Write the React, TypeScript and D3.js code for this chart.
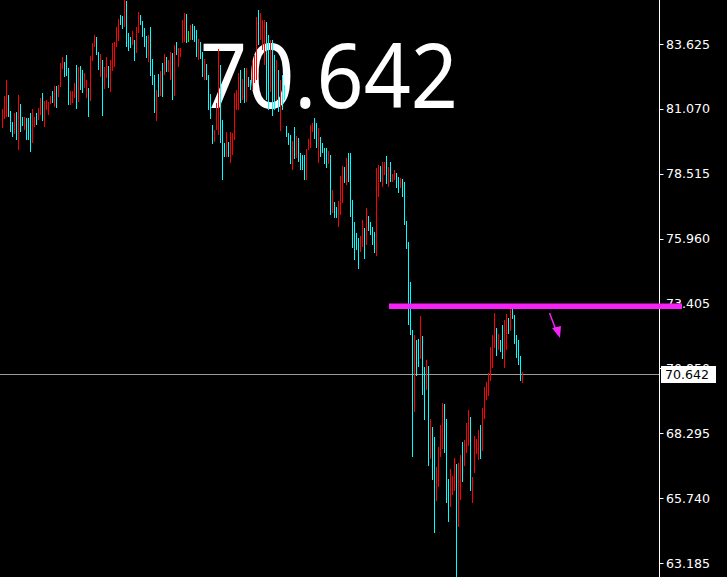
import * as d3 from 'd3';

const WIDTH = 727;
const HEIGHT = 577;

// bar highs / lows, oldest first
const highs = [
  81.07, 81.57, 82.21, 81.61, 80.99, 80.55, 80.91, 80.95, 81.61, 81.26,
  80.75, 80.75, 80.71, 80.71, 80.91, 81.07, 80.75, 80.91, 81.10, 81.50,
  81.69, 81.38, 81.42, 81.34, 81.57, 81.77, 81.97, 81.97, 82.01, 82.88,
  83.11, 82.92, 83.19, 82.68, 81.77, 81.77, 82.09, 82.80, 82.72, 82.76,
  82.60, 82.48, 82.21, 81.89, 83.15, 83.66, 83.98, 83.90, 83.31, 83.23,
  83.00, 82.72, 83.11, 82.76, 83.00, 83.66, 83.70, 84.30, 84.61, 84.77,
  84.73, 85.40, 85.30, 84.06, 83.90, 84.14, 83.78, 84.30, 84.88, 84.77,
  84.53, 84.26, 83.94, 83.98, 84.30, 83.03, 82.40, 81.81, 82.44, 82.56,
  82.88, 83.23, 83.11, 83.00, 83.31, 83.27, 83.59, 83.70, 83.47, 83.47,
  84.57, 84.85, 84.81, 84.14, 84.37, 84.41, 84.33, 84.18, 83.82, 83.70,
  83.31, 83.03, 82.84, 82.40, 81.65, 80.43, 80.24, 81.30, 83.43, 82.80,
  80.63, 79.72, 80.16, 79.76, 80.16, 80.12, 81.69, 81.81, 82.48, 82.60,
  82.25, 82.68, 82.68, 82.33, 82.21, 83.00, 83.19, 84.69, 84.96, 84.85,
  84.57, 84.57, 84.49, 83.98, 83.78, 83.78, 83.19, 83.00, 82.60, 82.21,
  82.40, 82.01, 80.39, 80.12, 80.04, 79.80, 80.35, 80.00, 79.92, 79.33,
  79.25, 79.25, 79.49, 79.88, 80.43, 80.51, 80.71, 80.51, 80.31, 79.96,
  79.72, 79.53, 79.53, 79.41, 79.25, 77.87, 77.40, 77.20, 77.44, 78.43,
  78.82, 78.78, 79.14, 79.33, 79.33, 77.48, 76.61, 76.18, 75.99, 76.07,
  76.69, 76.38, 77.17, 76.85, 76.61, 76.42, 76.22, 78.74, 78.86, 78.82,
  78.98, 78.98, 79.21, 78.78, 78.98, 78.51, 78.66, 78.54, 78.39, 78.35,
  78.31, 78.19, 76.65, 75.83, 74.25, 72.36, 72.17, 71.97, 72.01, 72.92,
  72.13, 70.91, 71.18, 70.95, 68.86, 68.54, 68.15, 66.96, 67.75, 68.62,
  69.49, 69.45, 68.86, 66.49, 66.89, 66.61, 67.32, 67.08, 67.12, 67.44,
  67.95, 68.03, 68.70, 69.21, 68.93, 66.57, 68.19, 68.07, 68.42, 68.62,
  69.29, 70.12, 70.31, 70.67, 71.69, 72.17, 73.03, 72.44, 72.20, 71.97,
  72.56, 72.76, 72.99, 72.84, 73.23, 73.27, 72.95, 72.17, 71.97, 71.34,
  70.71,
];

const lows = [
  80.31, 80.68, 80.75, 80.75, 80.16, 79.96, 80.08, 79.84, 79.45, 80.16,
  80.39, 80.24, 79.84, 79.84, 79.37, 79.72, 80.35, 80.43, 80.63, 80.83,
  80.59, 80.35, 81.03, 80.83, 81.26, 81.30, 81.14, 81.10, 81.53, 81.93,
  82.64, 82.33, 82.37, 81.22, 81.22, 81.30, 81.50, 81.07, 81.34, 81.81,
  81.69, 81.89, 81.50, 80.75, 81.38, 82.96, 83.51, 83.19, 82.60, 82.33,
  80.79, 81.85, 82.29, 81.89, 81.73, 82.56, 82.72, 83.51, 83.74, 84.37,
  84.22, 84.30, 83.51, 83.35, 83.47, 83.59, 82.96, 83.27, 84.06, 84.37,
  83.90, 83.51, 83.07, 82.92, 82.37, 82.01, 80.91, 80.59, 81.53, 81.57,
  81.53, 82.40, 82.52, 82.52, 82.21, 81.42, 81.57, 83.19, 82.72, 83.11,
  83.66, 83.70, 83.66, 83.70, 83.78, 83.78, 83.70, 83.11, 83.00, 83.03,
  82.33, 82.21, 82.21, 81.03, 80.67, 79.68, 79.76, 80.24, 80.04, 79.72,
  78.27, 79.17, 79.17, 79.17, 78.94, 79.25, 79.84, 81.03, 81.03, 81.30,
  81.42, 81.30, 81.34, 81.93, 81.81, 81.81, 82.09, 82.21, 83.59, 83.78,
  83.39, 82.80, 81.42, 81.03, 81.73, 80.79, 81.03, 81.42, 80.95, 80.20,
  81.03, 81.42, 79.96, 79.64, 78.90, 78.66, 79.10, 79.14, 78.98, 78.66,
  78.66, 78.27, 78.27, 79.45, 79.53, 80.16, 79.88, 79.53, 78.94, 79.17,
  79.33, 78.90, 78.74, 78.90, 76.89, 76.97, 76.77, 76.77, 76.42, 76.89,
  77.36, 78.15, 78.07, 78.19, 76.81, 75.59, 75.12, 75.51, 74.76, 75.43,
  75.63, 75.16, 75.71, 76.26, 76.10, 75.71, 75.39, 75.28, 77.60, 78.19,
  78.00, 78.46, 78.11, 78.00, 78.19, 78.19, 78.27, 77.95, 77.76, 77.95,
  77.60, 76.50, 75.55, 72.56, 72.17, 67.36, 69.13, 70.55, 70.91, 71.22,
  69.80, 68.82, 70.00, 67.00, 67.28, 66.45, 64.36, 65.62, 66.18, 67.36,
  67.67, 67.52, 65.55, 64.80, 65.39, 65.86, 66.02, 62.40, 64.60, 65.66,
  66.37, 67.00, 67.52, 67.79, 66.02, 65.55, 66.73, 67.48, 67.24, 67.28,
  67.60, 68.86, 69.61, 69.76, 70.35, 70.87, 71.65, 71.34, 71.57, 71.49,
  71.22, 70.87, 71.57, 72.20, 72.32, 72.80, 71.81, 71.26, 70.98, 70.35,
  70.28,
];

// R = red bar, C = cyan bar, G = doji
const barKinds = (
  'RRRCCCRCRC CRCCCRRCRR CRRRRCRCRR RCCCRRRCRC CRRCRRRCCR ' +
  'CRRCRRRRRC CRCCCRCRRC CCCRCCCRCR CRCRRCRCRR RRCGRCCCRC ' +
  'CRCCCCRRRC CCRCRRRRRC RCRCCRRRCR RRCCRCCRCR CCCCCRCRCC ' +
  'CCRRRRCCRC CCCRCRCCRR RCRCCCCCCR RCRCCCCRRC RRCRCRRCCR ' +
  'CCCCCCRCCR CCRCRCCRRR RCCCRRRCRR CRRRCRRRRC RRRRRRRCRC ' +
  'CRRCRCCCCC R'
).replace(/ /g, '').split('');

const axisTicks = [83.625, 81.07, 78.515, 75.96, 73.405, 70.85, 68.295, 65.74, 63.185];
const lastPrice = 70.642;
const levelPrice = 73.3;
const levelFrom = 193; // bar index where the drawn level starts

const KIND_COLORS: Record<string, string> = { R: '#ff0000', C: '#00ffff', G: '#00ff00' };
const AXIS_X = 659.5;
const MAGENTA = '#f523f5';

export default function App() {
  const n = highs.length;
  // 2px per bar, one pixel wide candles at zoomed-out scale
  const x = d3.scaleLinear().domain([0, n - 1]).range([2, 2 + (n - 1) * 2]);
  const y = d3.scaleLinear().domain([63.185, 83.625]).range([563, 44]);

  const yLast = Math.round(y(lastPrice)) + 0.5;
  const yLevel = y(levelPrice);

  return (
    <svg
      width={WIDTH}
      height={HEIGHT}
      style={{ position: 'fixed', left: 0, top: 0, display: 'block' }}
    >
      <rect width={WIDTH} height={HEIGHT} fill="#000" />

      {/* big price caption sits behind the bars */}
      <text
        x={200}
        y={108}
        fill="#fff"
        fontFamily="'Noto Sans', sans-serif"
        fontSize={90}
        textLength={258}
        lengthAdjust="spacingAndGlyphs"
      >
        70.642
      </text>

      <line x1={0} x2={AXIS_X} y1={yLast} y2={yLast} stroke="#9a9a9a" strokeWidth={1} />

      <g shapeRendering="crispEdges">
        {highs.map((h, i) => (
          <rect
            key={i}
            x={Math.round(x(i))}
            y={Math.round(y(h))}
            width={1}
            height={Math.max(1, Math.round(y(lows[i])) - Math.round(y(h)))}
            fill={KIND_COLORS[barKinds[i]]}
          />
        ))}
      </g>

      <line x1={AXIS_X} x2={AXIS_X} y1={0} y2={HEIGHT} stroke="#fff" strokeWidth={1} />
      <g fontFamily="'DejaVu Sans', sans-serif" fontSize={12.6} fill="#fff">
        {axisTicks.map((t) => (
          <g key={t}>
            <line x1={AXIS_X} x2={AXIS_X + 4} y1={Math.round(y(t)) + 0.5} y2={Math.round(y(t)) + 0.5} stroke="#fff" />
            <text x={666} y={y(t) + 4.6}>{t.toFixed(3)}</text>
          </g>
        ))}
      </g>

      {/* horizontal level drawn by hand */}
      <line
        x1={Math.round(x(levelFrom)) + 1}
        x2={682}
        y1={yLevel}
        y2={yLevel}
        stroke={MAGENTA}
        strokeWidth={5.5}
      />

      {/* last price box */}
      <rect x={661} y={yLast - 8.5} width={55} height={17} fill="#fff" />
      <text x={665} y={yLast + 4.6} fontFamily="'DejaVu Sans', sans-serif" fontSize={12.6} fill="#000">
        {lastPrice.toFixed(3)}
      </text>

      {/* small down arrow */}
      <line x1={549.5} y1={313} x2={556} y2={330} stroke={MAGENTA} strokeWidth={1.5} />
      <polygon points="552,328 561,326 560,338" fill={MAGENTA} />
    </svg>
  );
}
